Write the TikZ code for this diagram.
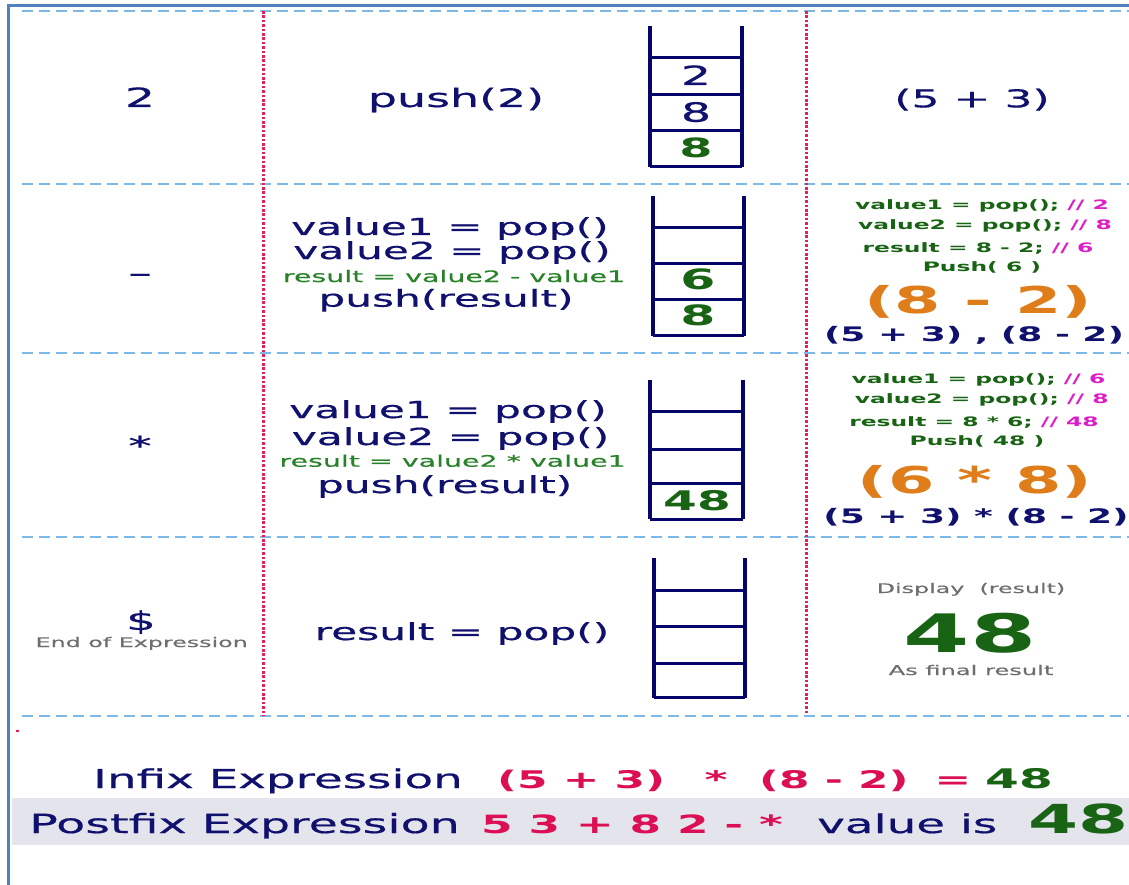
\documentclass[tikz,border=0pt]{standalone}
\usepackage{fontspec}
\setmainfont[FakeStretch=1.8, UprightFeatures={FakeBold=0.6}]{DejaVu Sans}
\definecolor{navy}{RGB}{16,16,110}
\definecolor{stackc}{RGB}{5,5,105}
\definecolor{dgreen}{RGB}{25,100,20}
\definecolor{lgreen}{RGB}{40,130,40}
\definecolor{magc}{RGB}{220,30,200}
\definecolor{orangec}{RGB}{222,125,25}
\definecolor{crim}{RGB}{220,15,85}
\definecolor{grayt}{RGB}{110,110,110}
\definecolor{borderc}{RGB}{79,129,189}
\definecolor{dashc}{RGB}{125,185,230}
\definecolor{dotc}{RGB}{232,30,90}
\definecolor{bandc}{RGB}{228,228,236}
\newcommand{\fsz}[1]{\fontsize{#1}{#1}\selectfont}
\tikzset{
  tx/.style={inner sep=0pt, anchor=base},
  txw/.style={inner sep=0pt, anchor=base west},
  rowline/.style={dashc, line width=1.8pt, dash pattern=on 11pt off 6pt},
  colline/.style={dotc, line width=3pt, dash pattern=on 2.6pt off 1.8pt},
  stackv/.style={stackc, line width=4pt},
  stackh/.style={stackc, line width=3pt},
  main/.style={tx, text=navy, font={\fsz{23.5}}},
  calc/.style={tx, text=lgreen, font={\fsz{15.8}}},
  small/.style={tx, text=dgreen, font={\fsz{13}\bfseries}},
  note/.style={tx, text=grayt, font={\fsz{13.2}}},
}
\begin{document}
\begin{tikzpicture}[x=1pt,y=-1pt]
\useasboundingbox (0,0) rectangle (1129,885);
% background band
\fill[bandc] (11.5,798) rectangle (1129,845);
% row lines
\foreach \yy in {11,184,353,537,716} \draw[rowline] (22,\yy) -- (1129,\yy);
% column lines
\draw[colline] (263,11) -- (263,716);
\draw[colline] (806,11) -- (806,714);
% border
\draw[borderc, line width=3pt] (8.3,885) -- (8.3,6) -- (1129,6);
\fill[dotc] (15.5,729.5) rectangle (18.5,731.5);

% stacks
\draw[stackv] (650,26) -- (650,166.7) (741.7,26) -- (741.7,166.7);
\foreach \yy in {57.7,94.3,131,166.7} \draw[stackh] (650,\yy) -- (741.7,\yy);
\draw[stackv] (652.7,195.7) -- (652.7,335.7) (744,195.7) -- (744,335.7);
\foreach \yy in {227.3,264,299.3,335.7} \draw[stackh] (652.7,\yy) -- (744,\yy);
\draw[stackv] (650,380) -- (650,519) (743,380) -- (743,519);
\foreach \yy in {411.7,449,483,519} \draw[stackh] (650,\yy) -- (743,\yy);
\draw[stackv] (654,558) -- (654,697.7) (745,558) -- (745,697.7);
\foreach \yy in {590,626.7,663.3,697.7} \draw[stackh] (654,\yy) -- (745,\yy);

% row 1
\node[tx, text=navy, font={\fsz{26.5}}] (sym1) at (140,107) {2};
\node[tx, text=navy, font={\fsz{25.5}}] (op1) at (456,107) {push(2)};
\node[tx, text=navy, font={\fsz{24.5}}] (ex1) at (972,107.3) {(5 + 3)};
\node[tx, text=navy, font={\fsz{26.5}}] (s1a) at (696,85) {2};
\node[tx, text=navy, font={\fsz{26.5}}] (s1b) at (696,121.7) {8};
\node[tx, text=dgreen, font={\fsz{26.5}\bfseries}] (s1c) at (696,157.3) {8};

% row 2
\node[tx, text=navy, font={\fsz{26}}] (sym2) at (140,282) {–};
\node[main] (op2a) at (450,235) {value1 = pop()};
\node[main] (op2b) at (452,259) {value2 = pop()};
\node[calc] (op2c) at (454,282) {result = value2 - value1};
\node[main] (op2d) at (446,306.7) {push(result)};
\node[tx, text=dgreen, font={\fsz{28}\bfseries}] (s2a) at (698,290) {6};
\node[tx, text=dgreen, font={\fsz{28}\bfseries}] (s2b) at (698,325) {8};
\node[small] (ex2a) at (982,210) {value1 = pop(); {\color{magc}// 2}};
\node[small] (ex2b) at (985,230) {value2 = pop(); {\color{magc}// 8}};
\node[small] (ex2c) at (978,253) {result = 8 - 2; {\color{magc}// 6}};
\node[small] (ex2d) at (982,272) {Push( 6 )};
\node[tx, text=orangec, font={\fsz{37}\bfseries}] (ex2e) at (978,313) {(8 - 2)};
\node[tx, text=navy, font={\fsz{20}\bfseries}] (ex2f) at (974,341.7) {(5 + 3) , (8 - 2)};

% row 3
\node[tx, text=navy, font={\fsz{26}}] (sym3) at (140,455) {*};
\node[main] (op3a) at (448,418) {value1 = pop()};
\node[main] (op3b) at (450.5,445) {value2 = pop()};
\node[calc] (op3c) at (452.6,466.7) {result = value2 * value1};
\node[main] (op3d) at (444.6,493) {push(result)};
\node[tx, text=dgreen, font={\fsz{27}\bfseries}] (s3a) at (697,510) {48};
\node[small] (ex3a) at (978.5,383) {value1 = pop(); {\color{magc}// 6}};
\node[small] (ex3b) at (981.7,403) {value2 = pop(); {\color{magc}// 8}};
\node[small] (ex3c) at (974,426) {result = 8 * 6; {\color{magc}// 48}};
\node[small] (ex3d) at (977,445.7) {Push( 48 )};
\node[tx, text=orangec, font={\fsz{37}\bfseries}] (ex3e) at (975,493) {(6 * 8)};
\node[tx, text=navy, font={\fsz{20}\bfseries}] (ex3f) at (976,523) {(5 + 3) * (8 - 2)};

% row 4
\node[tx, text=navy, font={\fsz{26}}] (sym4) at (141,630) {\$};
\node[note] (sym4b) at (141.7,647) {End of Expression};
\node[main] (op4) at (462,640) {result = pop()};
\node[note] (ex4a) at (971,593) {Display~~(result)};
\node[tx, text=dgreen, font={\fsz{53}\bfseries}] (ex4b) at (970,652) {48};
\node[note, font={\fsz{13.4}}] (ex4c) at (971,675) {As final result};

% summary lines
\node[txw, text=navy, font={\fsz{26}}] (inf) at (93,788) {Infix Expression};
\node[txw, text=crim, font={\fsz{24.3}\bfseries}] (inf1) at (497,788) {(5 + 3)};
\node[tx, text=crim, font={\fsz{24.3}\bfseries}] (inf2) at (716,788) {*};
\node[txw, text=crim, font={\fsz{24.3}\bfseries}] (inf3) at (759,788) {(8 - 2)};
\node[tx, text=crim, font={\fsz{24.3}\bfseries}] (inf4) at (953,788) {=};
\node[txw, text=dgreen, font={\fsz{27}\bfseries}] (inf5) at (985,788) {48};
\node[txw, text=navy, font={\fsz{26.4}}] (post) at (29,833) {Postfix Expression};
\node[txw, text=crim, font={\fsz{25.2}\bfseries}] (post1) at (481,833) {5 3 + 8 2 - *};
\node[txw, text=navy, font={\fsz{26}}] (post2) at (817,833) {value is};
\node[txw, text=dgreen, font={\fsz{40}\bfseries}] (post3) at (1028,833) {48};
\end{tikzpicture}
\end{document}
